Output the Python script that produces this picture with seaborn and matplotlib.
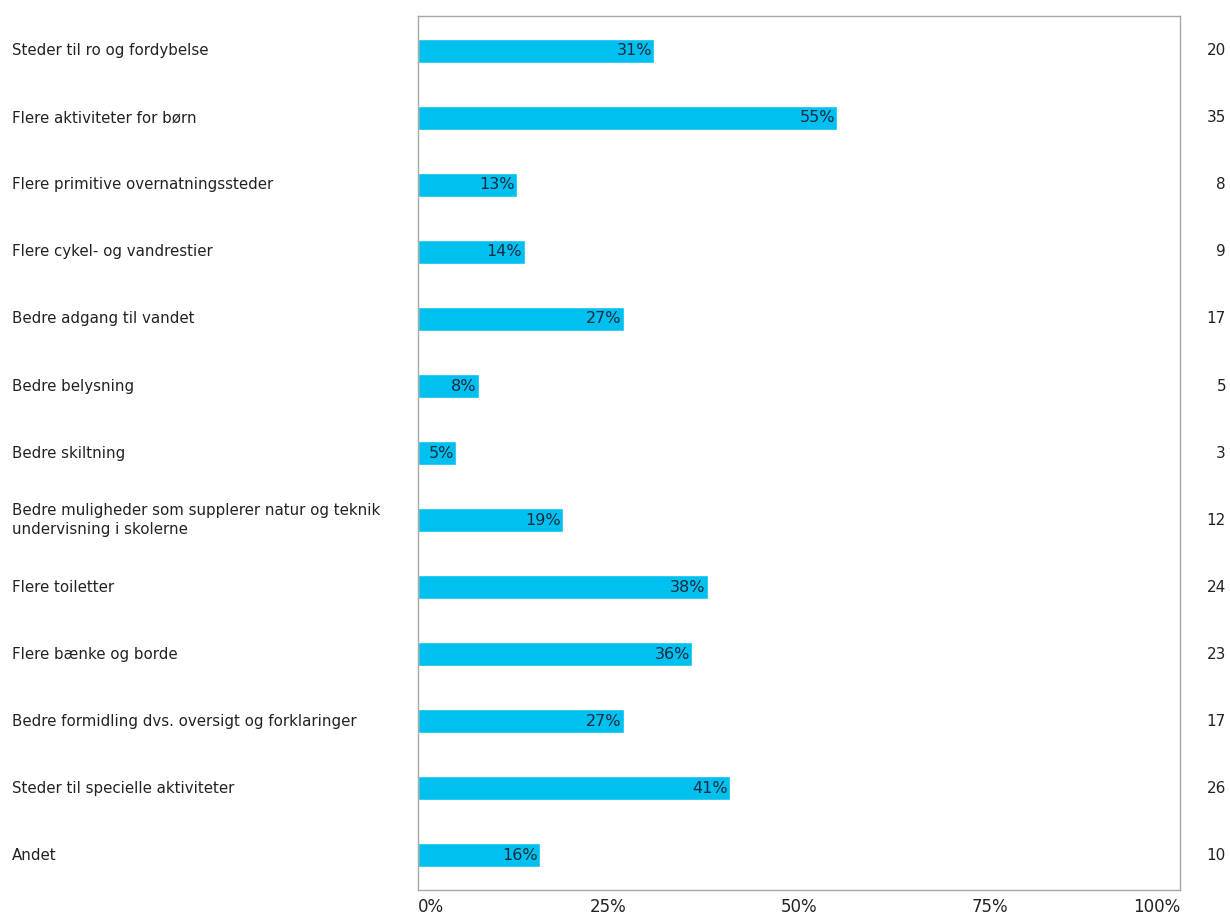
import pandas as pd
import seaborn as sns
import matplotlib.pyplot as plt
import matplotlib.transforms as mtransforms

categories = [
    "Steder til ro og fordybelse",
    "Flere aktiviteter for børn",
    "Flere primitive overnatningssteder",
    "Flere cykel- og vandrestier",
    "Bedre adgang til vandet",
    "Bedre belysning",
    "Bedre skiltning",
    "Bedre muligheder som supplerer natur og teknik\nundervisning i skolerne",
    "Flere toiletter",
    "Flere bænke og borde",
    "Bedre formidling dvs. oversigt og forklaringer",
    "Steder til specielle aktiviteter",
    "Andet",
]
percent = [31, 55, 13, 14, 27, 8, 5, 19, 38, 36, 27, 41, 16]
counts = [20, 35, 8, 9, 17, 5, 3, 12, 24, 23, 17, 26, 10]
tick_values = [0, 25, 50, 75, 100]
tick_labels = ["0%", "25%", "50%", "75%", "100%"]

df = pd.DataFrame({"category": categories, "percent": percent, "count": counts})

sns.set_theme(style="white")
plt.rcParams['font.family'] = ['DejaVu Sans']

fig = plt.figure(figsize=(12.3, 9.18), dpi=100)
ax = fig.add_axes([0.3398, 0.0305, 0.6195, 0.952])

sns.barplot(data=df, x="percent", y="category", orient="h", color="#00c0f0",
            saturation=1, width=0.35, ax=ax)

ax.set_xlim(0, 100)
ax.set_ylim(len(categories) - 0.48, -0.52)
ax.set_xlabel("")
ax.set_ylabel("")
ax.set_yticks([])
ax.set_xticks(tick_values)
ax.set_xticklabels(tick_labels, fontsize=12, color="#222222")
labels = ax.get_xticklabels()
labels[0].set_ha("left")
labels[-1].set_ha("right")
ax.tick_params(axis="x", length=0, pad=6)

for side in ["left", "right", "top", "bottom"]:
    ax.spines[side].set_color("#a8a8a8")
    ax.spines[side].set_linewidth(1)

# value labels inside bars
for i, p in enumerate(percent):
    ax.text(p - 0.3, i, f"{p}%", ha="right", va="center", fontsize=11.5, color="#1a2a40")

# category labels on the left and counts on the right
trans = mtransforms.blended_transform_factory(fig.transFigure, ax.transData)
for i, (c, n) in enumerate(zip(categories, counts)):
    ax.text(12 / 1230, i, c, ha="left", va="center", fontsize=10.8,
            color="#222222", transform=trans, linespacing=1.3)
    ax.text(1226 / 1230, i, str(n), ha="right", va="center", fontsize=11,
            color="#222222", transform=trans)

fig.savefig("out.png", dpi=100, facecolor="white")
